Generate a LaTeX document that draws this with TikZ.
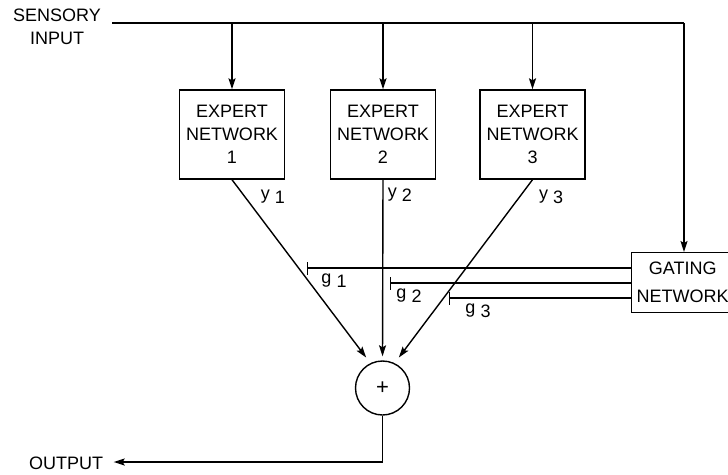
\documentclass[tikz,border=0pt]{standalone}
\usepackage{fontspec}
\setmainfont{Liberation Sans}
\usetikzlibrary{arrows.meta,calc}
\begin{document}
\begin{tikzpicture}[x=1pt,y=-1pt,line width=1.4pt,
  every node/.style={font=\fontsize{18}{23}\selectfont, inner sep=0pt},
  arr/.style={-{Stealth[length=11pt,width=7pt,inset=2pt]}},
  expbox/.style={draw, minimum width=105pt, minimum height=89pt, align=center},
  gline/.style={-{Bar[width=13pt]}},
  lbl/.style={anchor=center}]
\clip (0,0) rectangle (728,474);
\fill[white] (0,0) rectangle (728,474);
% text labels
\node[align=center] (sens) at (57,27) {SENSORY\\INPUT};
\node (out) at (66,463) {OUTPUT};
% expert networks
\node[expbox] (e1) at (232,134.5) {EXPERT\\NETWORK\\1};
\node[expbox] (e2) at (383,134.5) {EXPERT\\NETWORK\\2};
\node[expbox] (e3) at (532.5,134.5) {EXPERT\\NETWORK\\3};
% gating network
\node[draw, anchor=north west, minimum width=102pt, minimum height=60pt, align=center,
  font=\fontsize{18}{28}\selectfont] (gate) at (631,252) {GATING\\NETWORK};
% summation
\node[draw, circle, minimum size=54pt, font=\fontsize{22}{22}\selectfont] (sum) at (382.5,388) {+};
% sensory input bus
\coordinate (s0) at (112,23);
\coordinate (s1) at (232,23);
\coordinate (s2) at (383,23);
\coordinate (s3) at (532.5,23);
\coordinate (s4) at (684,23);
\draw (s0) -- (s4);
\draw[arr] (s1) -- (e1.north);
\draw[arr] (s2) -- (e2.north);
\draw[arr] (s3) -- (e3.north);
\draw[arr] (s4) -- (s4 |- gate.north);
% expert outputs
\draw[arr, shorten >=7pt] (e1.south) -- (sum.116);
\draw[arr, shorten >=4pt] (e2.south) -- (sum.north);
\draw[arr, shorten >=7pt] (e3.south) -- (sum.64);
\node[lbl] (y1) at (273,197) {y\kern5pt\raisebox{-4pt}{1}};
\node[lbl] (y2) at (400,195) {y\kern5pt\raisebox{-4pt}{2}};
\node[lbl] (y3) at (551,197) {y\kern5pt\raisebox{-4pt}{3}};
% gating outputs
\coordinate (g1c) at (307,268);
\coordinate (g2c) at (390,283);
\coordinate (g3c) at (449,298);
\draw[gline] (gate.west |- g1c) -- (g1c);
\draw[gline] (gate.west |- g2c) -- (g2c);
\draw[gline] (gate.west |- g3c) -- (g3c);
\node[lbl] (g1) at (334,281) {g\kern5pt\raisebox{-4pt}{1}};
\node[lbl] (g2) at (409,296) {g\kern5pt\raisebox{-4pt}{2}};
\node[lbl] (g3) at (478,311) {g\kern5pt\raisebox{-4pt}{3}};
% output
\coordinate (oc) at (382.5,462);
\draw[arr, shorten >=10pt] (sum.south) -- (oc) -- (out.east |- oc);
\end{tikzpicture}
\end{document}
